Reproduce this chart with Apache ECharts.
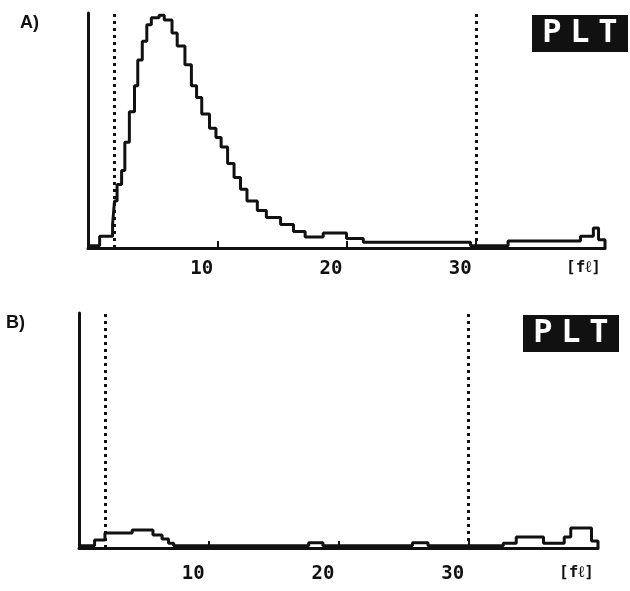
<!DOCTYPE html>
<html>
<head>
<meta charset="utf-8">
<script src="https://cdn.jsdelivr.net/npm/echarts@6/dist/echarts.min.js"></script>
<style>
  html, body { margin: 0; padding: 0; background: #fff; }
  #chart { width: 630px; height: 591px; }
</style>
</head>
<body>
<div id="chart"></div>
<script>
// PLT 直方图 A / B —— 阶梯线，体积 fL
var xTicks = [0, 10, 20, 30, 40];
var unitLabel = '[fℓ]';
var cutoffs = [2, 30];

// A) 分箱左边界与高度
var aEdges = [0, 0.9, 1.9, 2.05, 2.25, 2.6, 2.85, 3.2, 3.6, 3.85, 4.2, 4.55, 4.9, 5.5, 5.9, 6.5, 6.9, 7.5, 8.0, 8.4, 8.8, 9.4, 9.9, 10.3, 10.8, 11.3, 11.8, 12.3, 13.1, 13.8, 14.9, 15.9, 16.8, 18.2, 20.0, 21.3, 29.6, 32.5, 38.1, 39.1, 39.5, 40];
var aCounts = [1, 5, 10, 20, 27, 33, 45, 58, 69, 80, 88, 95, 98, 99, 97, 91.5, 86, 78, 69, 64, 57, 51, 47, 43, 36, 30, 25, 20, 16, 13, 10, 7, 4.7, 6.4, 4, 2.5, 1, 3, 5, 8.5, 3.5, 0];

// B)
var bEdges = [0, 1.2, 2.0, 4.1, 5.7, 6.4, 6.9, 7.3, 17.7, 18.8, 25.7, 26.9, 32.7, 33.7, 35.8, 37.4, 37.9, 39.5, 40];
var bCounts = [1, 3.4, 6.4, 7.7, 5.5, 3.8, 2, 1, 2.2, 1, 2.2, 1, 2, 4.7, 2, 4.7, 8.5, 3, 0];

var INK = '#111';

function pairs(xs, ys) {
    var out = [];
    for (var i = 0; i < xs.length; i++) out.push([xs[i], ys[i]]);
    return out;
}

function makeX(gridIndex, labelMargin) {
    return {
        gridIndex: gridIndex,
        type: 'value',
        min: xTicks[0],
        max: xTicks[xTicks.length - 1],
        interval: xTicks[1] - xTicks[0],
        axisLine: { lineStyle: { color: INK, width: 3 } },
        axisTick: { inside: true, length: 7, lineStyle: { color: INK, width: 2 } },
        splitLine: { show: false },
        axisLabel: {
            margin: labelMargin,
            color: INK,
            fontFamily: 'DejaVu Sans Mono',
            fontWeight: 'bold',
            fontSize: 19,
            align: 'right',
            padding: [0, 4, 0, 0],
            formatter: function(v) {
                if (v === 0) return '';
                if (v === 40) return '{u|' + unitLabel + '}';
                return String(v);
            },
            rich: {
                u: { fontFamily: 'DejaVu Sans Mono', fontWeight: 'bold', fontSize: 16, color: INK }
            }
        }
    };
}

function makeY(gridIndex) {
    return {
        gridIndex: gridIndex,
        type: 'value',
        min: 0,
        max: 100,
        axisLine: { show: true, lineStyle: { color: INK, width: 3 } },
        axisTick: { show: false },
        axisLabel: { show: false },
        splitLine: { show: false }
    };
}

function makeSeries(idx, xs, ys) {
    return {
        type: 'line',
        xAxisIndex: idx,
        yAxisIndex: idx,
        step: 'end',
        data: pairs(xs, ys),
        showSymbol: false,
        lineStyle: { color: INK, width: 3 },
        silent: true,
        markLine: {
            symbol: 'none',
            silent: true,
            label: { show: false },
            lineStyle: { color: INK, width: 3, type: [3, 4] },
            data: cutoffs.map(function(c) { return { xAxis: c }; })
        }
    };
}

function pltTitle(left, top) {
    return {
        text: '{a|P}{a|L}{a|T}',
        left: left,
        top: top,
        backgroundColor: INK,
        padding: [3, 6, 2, 6],
        textStyle: {
            rich: {
                a: { color: '#fff', fontFamily: 'DejaVu Sans Mono', fontSize: 32, lineHeight: 32, width: 28, align: 'center' }
            }
        }
    };
}

var chart = echarts.init(document.getElementById('chart'));

var option = {
    backgroundColor: '#fff',
    animation: false,
    title: [
        { text: 'A)', left: 20, top: 14, padding: 0, textStyle: { fontFamily: 'Liberation Sans', fontWeight: 'bold', fontSize: 18, color: INK } },
        { text: 'B)', left: 6, top: 314, padding: 0, textStyle: { fontFamily: 'Liberation Sans', fontWeight: 'bold', fontSize: 18, color: INK } },
        pltTitle(532, 15),
        pltTitle(523, 315)
    ],
    grid: [
        { left: 88, top: 13, width: 517, height: 235 },
        { left: 79, top: 313, width: 519, height: 235 }
    ],
    xAxis: [makeX(0, 12), makeX(1, 17)],
    yAxis: [makeY(0), makeY(1)],
    series: [
        makeSeries(0, aEdges, aCounts),
        makeSeries(1, bEdges, bCounts)
    ]
};

chart.setOption(option);
</script>
</body>
</html>
